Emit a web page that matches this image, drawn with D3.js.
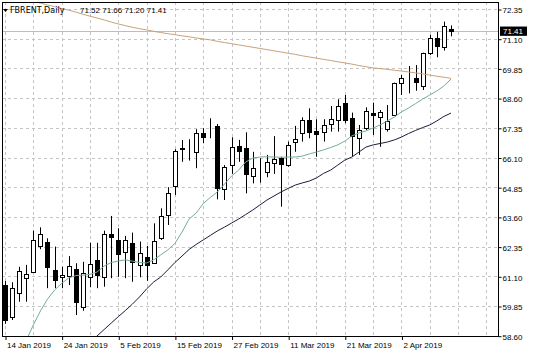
<!DOCTYPE html>
<html><head><meta charset="utf-8">
<script src="https://cdn.jsdelivr.net/npm/d3@7"></script>
<style>body{margin:0;background:#fff;} svg{display:block;}</style>
</head><body>
<svg id="c" width="536" height="358"></svg>
<script>
const dates = ["14 Jan 2019","15 Jan 2019","16 Jan 2019","17 Jan 2019","18 Jan 2019","21 Jan 2019","22 Jan 2019","23 Jan 2019","24 Jan 2019","25 Jan 2019",
"28 Jan 2019","29 Jan 2019","30 Jan 2019","31 Jan 2019","1 Feb 2019","4 Feb 2019","5 Feb 2019","6 Feb 2019","7 Feb 2019","8 Feb 2019",
"11 Feb 2019","12 Feb 2019","13 Feb 2019","14 Feb 2019","15 Feb 2019","18 Feb 2019","19 Feb 2019","20 Feb 2019","21 Feb 2019","22 Feb 2019",
"25 Feb 2019","26 Feb 2019","27 Feb 2019","28 Feb 2019","1 Mar 2019","4 Mar 2019","5 Mar 2019","6 Mar 2019","7 Mar 2019","8 Mar 2019",
"11 Mar 2019","12 Mar 2019","13 Mar 2019","14 Mar 2019","15 Mar 2019","18 Mar 2019","19 Mar 2019","20 Mar 2019","21 Mar 2019","22 Mar 2019",
"25 Mar 2019","26 Mar 2019","27 Mar 2019","28 Mar 2019","29 Mar 2019","1 Apr 2019","2 Apr 2019","3 Apr 2019","4 Apr 2019","5 Apr 2019",
"8 Apr 2019","9 Apr 2019","10 Apr 2019","11 Apr 2019"];

const opens  = [60.73,59.38,60.41,61.03,61.29,62.39,62.56,61.37,61.06,61.11,61.41,59.80,61.08,61.79,61.08,62.87,62.63,62.14,62.51,61.58,
61.90,61.67,62.70,63.68,64.90,66.47,66.46,66.34,67.14,67.00,67.43,64.76,65.78,66.58,66.51,65.32,65.64,65.50,65.88,66.07,
65.78,66.77,67.12,67.68,67.23,67.19,67.51,67.68,68.41,67.75,66.91,67.33,67.96,67.79,67.29,67.89,69.22,69.64,69.43,69.11,
70.49,71.12,70.74,71.52];
const highs  = [60.90,60.85,61.50,61.58,63.02,63.16,62.70,62.35,61.50,61.95,61.65,61.71,62.51,62.51,63.02,63.64,63.12,62.80,62.94,62.56,
62.38,63.33,63.96,64.85,66.45,66.84,66.87,67.29,67.33,67.75,67.51,65.78,66.95,66.84,67.16,66.34,66.07,66.21,67.00,66.13,
66.77,67.43,67.79,68.17,67.71,67.71,68.27,68.55,68.73,67.99,67.47,68.21,68.41,68.10,68.31,69.25,69.57,69.95,69.99,70.51,
71.26,71.39,71.82,71.66];
const lows   = [59.10,59.26,60.03,60.03,61.29,62.24,60.60,60.60,60.60,60.73,59.47,59.65,60.64,60.60,60.66,61.02,61.08,61.02,60.87,61.06,
60.91,61.62,62.63,63.26,64.52,65.92,65.97,65.65,66.70,66.91,64.34,64.31,65.41,65.92,64.59,65.01,65.04,65.27,65.41,64.03,
65.71,66.34,66.77,66.91,66.13,66.77,67.19,67.19,67.54,66.16,66.21,67.26,67.05,66.55,67.19,67.85,68.73,68.80,68.91,68.94,
70.41,70.32,70.60,71.20];
const closes = [59.26,60.60,61.34,61.20,62.63,62.87,61.50,60.94,61.14,61.55,60.03,61.25,61.60,61.15,62.88,62.77,62.04,62.63,61.71,62.09,
61.58,62.60,63.65,64.59,66.39,66.50,66.44,67.14,66.98,67.02,64.80,65.69,66.55,66.39,65.41,65.65,65.66,65.92,66.02,65.83,
66.63,66.87,67.68,67.19,67.08,67.47,67.71,68.27,67.68,67.00,67.26,68.07,67.89,68.03,67.64,69.22,69.46,69.66,69.29,70.49,
71.12,70.79,71.64,71.41];

const maFast = [null,null,null,58.40,59.05,59.64,60.14,60.52,60.80,61.03,61.13,61.15,61.18,61.28,61.53,61.68,61.74,61.79,61.74,61.68,
61.66,61.79,62.00,62.21,62.48,62.96,63.51,63.76,64.16,64.42,64.65,64.98,65.32,65.57,65.91,66.08,66.12,66.13,66.12,66.11,
66.12,66.12,66.16,66.25,66.33,66.42,66.52,66.63,66.79,67.01,67.13,67.22,67.34,67.47,67.64,67.80,68.02,68.18,68.37,68.56,
68.73,68.90,69.11,69.40];
const maMid = [null,null,null,null,null,null,null,null,null,null,null,null,58.32,58.59,58.86,59.13,59.40,59.66,59.93,60.23,
60.57,60.86,61.07,61.37,61.68,61.95,62.23,62.44,62.63,62.82,63.01,63.17,63.34,63.51,63.70,63.89,64.10,64.31,64.48,64.65,
64.80,64.94,65.03,65.11,65.24,65.43,65.57,65.78,65.99,66.12,66.33,66.54,66.63,66.69,66.75,66.84,66.96,67.11,67.24,67.36,
67.47,67.64,67.83,67.97];
const maSlow = [72.96,72.89,72.81,72.74,72.67,72.60,72.52,72.45,72.37,72.30,72.22,72.13,72.05,71.97,71.89,71.80,71.72,71.65,71.58,71.52,
71.47,71.41,71.36,71.31,71.27,71.22,71.18,71.13,71.09,71.05,70.99,70.94,70.89,70.84,70.79,70.74,70.69,70.64,70.59,70.54,
70.49,70.44,70.38,70.33,70.28,70.23,70.18,70.13,70.08,70.03,69.97,69.92,69.87,69.84,69.81,69.77,69.74,69.70,69.66,69.62,
69.57,69.52,69.48,69.43];

const priceTicks = [58.60,59.85,61.10,62.35,63.60,64.85,66.10,67.35,68.60,69.85,71.10,72.35];
const dateTickLabels = ["14 Jan 2019","24 Jan 2019","5 Feb 2019","15 Feb 2019","27 Feb 2019","11 Mar 2019","21 Mar 2019","2 Apr 2019"];
const symbolName = "FBRENT,Daily";
const lastOHLC = [71.52, 71.66, 71.20, 71.41];

const svg = d3.select("#c");
const L = 2, R = 499, T = 2, B = 336;
const x = d3.scalePoint().domain(dates).range([5, 451]);
const y = d3.scaleLinear().domain([58.60, 72.35]).range([335.7, 9]);
const step = x.step();
const font = "'Liberation Sans', Arial, sans-serif";

svg.append("defs").append("clipPath").attr("id","plot")
  .append("rect").attr("x",L).attr("y",T).attr("width",R-L).attr("height",B-T);

// grid
const grid = svg.append("g").attr("stroke","#c4c4c4").attr("stroke-dasharray","3,3").attr("stroke-width",1);
priceTicks.forEach(p => {
  const yy = Math.round(y(p)) + 0.5;
  grid.append("line").attr("x1",L).attr("x2",R).attr("y1",yy).attr("y2",yy);
});
d3.range(0, 69, 4).forEach(i => {
  const xx = Math.round(x(dates[0]) + i*step) + 0.5;
  grid.append("line").attr("x1",xx).attr("x2",xx).attr("y1",T).attr("y2",B);
});

const plot = svg.append("g").attr("clip-path","url(#plot)");

// bid line
const yb = Math.round(y(lastOHLC[3])) + 0.5;
plot.append("line").attr("x1",L).attr("x2",R).attr("y1",yb).attr("y2",yb)
  .attr("stroke","#bdbdbd").attr("stroke-width",1);

// candles
dates.forEach((d,i) => {
  const cx = Math.round(x(d)) + 0.5;
  const o = opens[i], c = closes[i];
  plot.append("line").attr("x1",cx).attr("x2",cx)
    .attr("y1",y(highs[i])).attr("y2",y(lows[i])).attr("stroke","#000").attr("stroke-width",1);
  const top = Math.round(y(Math.max(o,c))) + 0.5, bot = Math.round(y(Math.min(o,c))) + 0.5;
  plot.append("rect").attr("x",cx-2).attr("y",top).attr("width",4).attr("height",Math.max(bot-top,0))
    .attr("fill", c >= o ? "#fff" : "#000").attr("stroke","#000").attr("stroke-width",1);
});

// moving averages
const line = d3.line().defined(d => d[1] != null).x(d => x(d[0])).y(d => y(d[1]));
[[maSlow,"#c9a17b"],[maFast,"#74ad98"],[maMid,"#1c1c3a"]].forEach(([arr,col]) => {
  plot.append("path").datum(dates.map((d,i)=>[d,arr[i]])).attr("d",line)
    .attr("fill","none").attr("stroke",col).attr("stroke-width",1);
});

// frame
svg.append("rect").attr("x",L+0.5).attr("y",T+0.5).attr("width",R-L-1).attr("height",B-T)
  .attr("fill","none").attr("stroke","#000").attr("stroke-width",1);

// right axis
const yAxis = d3.axisRight(y).tickValues(priceTicks).tickFormat(d3.format(".2f")).tickSize(3).tickPadding(1).tickSizeOuter(0);
const ya = svg.append("g").attr("transform",`translate(${R-0.5},0.5)`).call(yAxis);
ya.select(".domain").remove();
ya.selectAll("text").attr("font-family",font).attr("font-size",8).attr("fill","#000").attr("dy","0.42em");
ya.selectAll("line").attr("stroke","#000");

// price label
svg.append("rect").attr("x",500).attr("y",y(lastOHLC[3])-4.8).attr("width",27).attr("height",9.3).attr("fill","#000");
svg.append("text").attr("x",503).attr("y",y(lastOHLC[3])+2.6).attr("font-family",font).attr("font-size",8)
  .attr("fill","#fff").text(lastOHLC[3].toFixed(2));

// bottom axis
const xAxis = d3.axisBottom(x).tickValues(dateTickLabels).tickSize(4).tickPadding(0).tickSizeOuter(0);
const xa = svg.append("g").attr("transform",`translate(0.5,${B})`).call(xAxis);
xa.select(".domain").remove();
xa.selectAll("line").attr("stroke","#000");
xa.selectAll("text").attr("font-family",font).attr("font-size",8).attr("fill","#000")
  .attr("text-anchor","start").attr("x",1).attr("y",12.3).attr("dy",0);

// title
svg.append("path").attr("d","M3,9 L8,9 L5.5,12 Z").attr("fill","#000");
svg.append("text").attr("x",10).attr("y",13.3).attr("font-family","'DejaVu Sans', sans-serif").attr("font-size",8)
  .attr("fill","#000").text(symbolName);
svg.append("text").attr("x",80).attr("y",13.3).attr("font-family",font).attr("font-size",8)
  .attr("fill","#000").text(lastOHLC.map(v=>v.toFixed(2)).join(" "));
</script>
</body></html>
